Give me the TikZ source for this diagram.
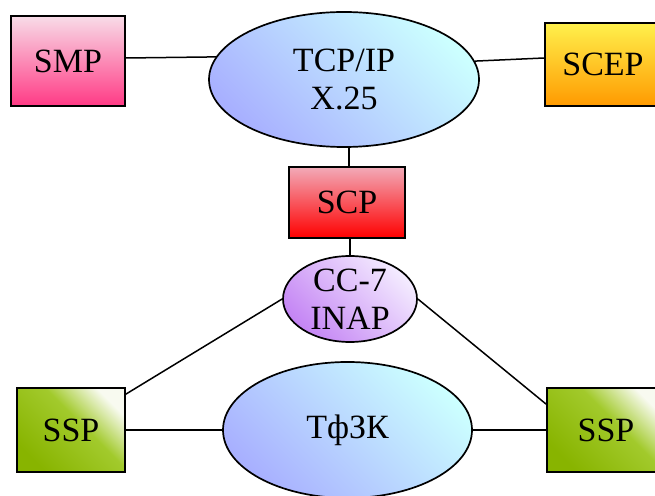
\documentclass[tikz,border=0pt]{standalone}
\usepackage{fontspec}
\setmainfont{Liberation Serif}
\usetikzlibrary{shapes.geometric}
\definecolor{smptop}{HTML}{F8DCE8}
\definecolor{smpbot}{HTML}{FF3A85}
\definecolor{scptop}{HTML}{F2AAB8}
\definecolor{scpbot}{HTML}{FF0000}
\definecolor{sceptop}{HTML}{FFF04C}
\definecolor{scepbot}{HTML}{FF9A00}
\definecolor{netcyan}{HTML}{CCFFFF}
\definecolor{netlav}{HTML}{A8B0FF}
\definecolor{cclight}{HTML}{F4ECFF}
\definecolor{ccdark}{HTML}{C484F4}
\definecolor{ssplight}{HTML}{F8FAF0}
\definecolor{sspmid}{HTML}{A2CA2C}
\definecolor{sspdark}{HTML}{88B400}
\pgfdeclareverticalshading{sspshade}{100bp}{color(0bp)=(sspdark); color(25bp)=(sspdark); color(56bp)=(sspmid); color(75bp)=(ssplight); color(100bp)=(ssplight)}
\begin{document}
\begin{tikzpicture}[x=1pt,y=1pt,
  every node/.style={font=\fontsize{34}{38}\selectfont, inner sep=0pt, align=center},
  boxnode/.style={draw, line width=1.7pt, rectangle},
  netnode/.style={draw, line width=1.7pt, ellipse},
  link/.style={line width=1.5pt}]
\useasboundingbox (0,0) rectangle (655,495);
\clip (0,0) rectangle (655,495);
% nodes
\node[boxnode, minimum width=114pt, minimum height=90pt, top color=smptop, bottom color=smpbot] (smp) at (68,434) {SMP};
\node[netnode, minimum width=270pt, minimum height=135pt, top color=netcyan, bottom color=netlav, shading angle=-45] (tcp) at (344,415.5) {TCP/IP\\X.25};
\node[boxnode, minimum width=116pt, minimum height=83pt, top color=sceptop, bottom color=scepbot] (scep) at (603,430.5) {SCEP};
\node[boxnode, minimum width=116pt, minimum height=71pt, top color=scptop, bottom color=scpbot] (scp) at (347,292.5) {SCP};
\node[netnode, minimum width=134pt, minimum height=86pt, top color=cclight, bottom color=ccdark, shading angle=-45] (cc) at (350,196) {CC-7\\INAP};
\node[boxnode, minimum width=108pt, minimum height=84pt, shading=sspshade, shading angle=-45] (sspl) at (71,65) {SSP};
\node[boxnode, minimum width=118pt, minimum height=84pt, shading=sspshade, shading angle=-45] (sspr) at (606,65) {SSP};
\node[netnode, minimum width=249pt, minimum height=136pt, top color=netcyan, bottom color=netlav, shading angle=-45] (tfzk) at (347.5,65) {ТфЗК};
% connectors
\draw[link] ([yshift=3pt]smp.east) -- (tcp.170.5);
\draw[link] (tcp.8.6) -- ([yshift=6.5pt]scep.west);
\draw[link] ([xshift=2pt]scp.north) -- ([xshift=2pt]scp.north |- tcp.south);
\draw[link] (cc.north) -- (cc.north |- scp.south);
\draw[link] (cc.west) -- ([yshift=-7pt]sspl.north east);
\draw[link] (cc.east) -- ([yshift=-17pt]sspr.north west);
\draw[link] (sspl) -- (tfzk);
\draw[link] (tfzk) -- (sspr);
\end{tikzpicture}
\end{document}
